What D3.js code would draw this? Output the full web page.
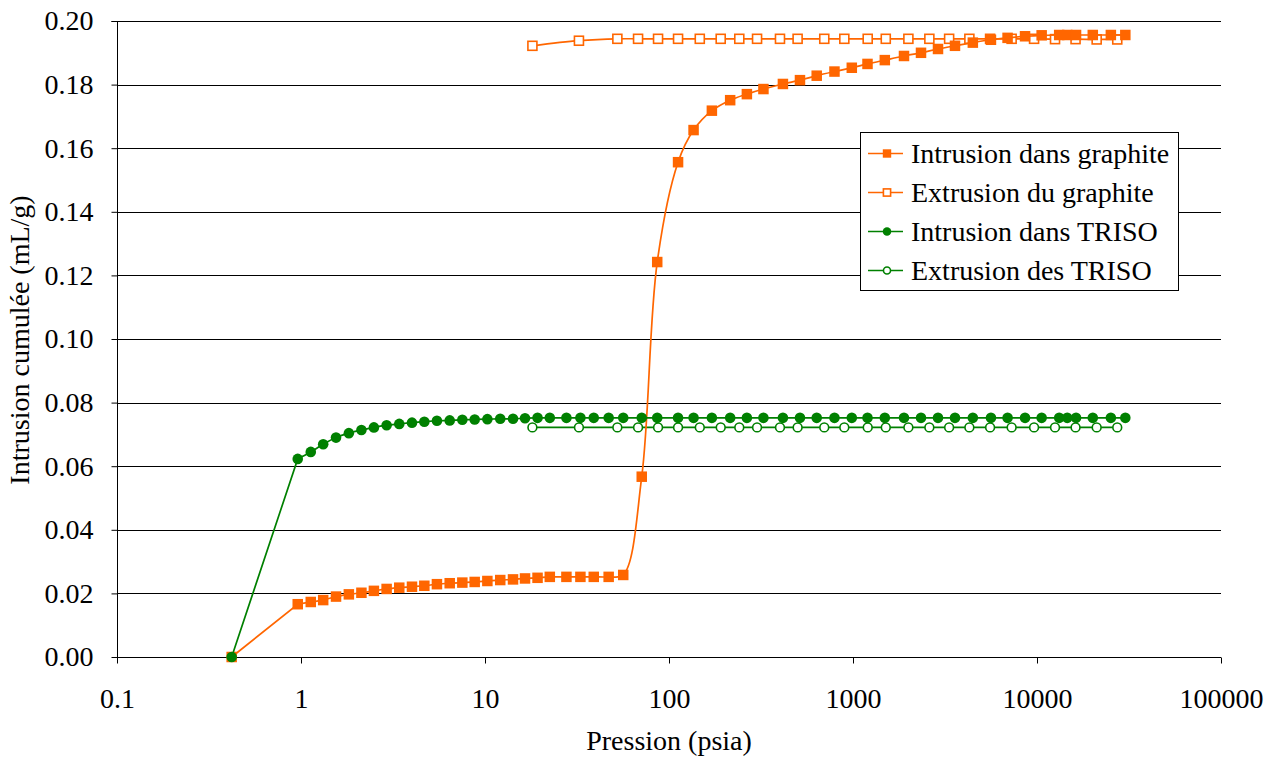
<!DOCTYPE html>
<html>
<head>
<meta charset="utf-8">
<script src="https://cdn.jsdelivr.net/npm/d3@7.9.0/dist/d3.min.js"></script>
</head>
<body style="margin: 0; background: #fff;">
<svg width="1276" height="758"></svg>
<script>
// pressures (psia) used for both intrusion runs
const intrusionPressure = [0.42, 0.96, 1.13, 1.32, 1.55, 1.82, 2.13, 2.49, 2.92, 3.42, 4.01, 4.68, 5.48, 6.43, 7.53, 8.79,
  10.3, 12.1, 14.2, 16.5, 19.3, 22.5, 27.7, 33.0, 39.0, 47.0, 56.4, 71.1, 86.3, 112, 136, 171, 215, 265, 326, 416,
  515, 635, 793, 985, 1199, 1489, 1893, 2342, 2897, 3583, 4480, 5620, 6920, 8610, 10600, 13200, 14600, 16300,
  20100, 25200, 30200];
const intrusionGraphite = [0, 0.0166, 0.0173, 0.0179, 0.0190, 0.0197, 0.0202, 0.0208, 0.0214, 0.0218, 0.0221, 0.0224,
  0.0229, 0.0232, 0.0234, 0.0236, 0.0239, 0.0242, 0.0244, 0.0247, 0.0249, 0.0252, 0.0252, 0.0252, 0.0252, 0.0252,
  0.0258, 0.0567, 0.1242, 0.1556, 0.1657, 0.1718, 0.1751, 0.1770, 0.1786, 0.1802, 0.1814, 0.1828, 0.1841, 0.1853,
  0.1865, 0.1877, 0.1890, 0.1900, 0.1912, 0.1922, 0.1932, 0.1941, 0.1947, 0.1952, 0.1955, 0.1956, 0.1956, 0.1956,
  0.1956, 0.1956, 0.1956];
const intrusionTriso = [0, 0.0623, 0.0645, 0.0669, 0.0690, 0.0704, 0.0714, 0.0722, 0.0729, 0.0733, 0.0737, 0.0740,
  0.0743, 0.0744, 0.0746, 0.0747, 0.0748, 0.0749, 0.0749, 0.0751, 0.0752, 0.0752, 0.0752, 0.0752, 0.0752, 0.0752,
  0.0752, 0.0752, 0.0752, 0.0752, 0.0752, 0.0752, 0.0752, 0.0752, 0.0752, 0.0752, 0.0752, 0.0752, 0.0752, 0.0752,
  0.0752, 0.0752, 0.0752, 0.0752, 0.0752, 0.0752, 0.0752, 0.0752, 0.0752, 0.0752, 0.0752, 0.0752, 0.0752, 0.0752,
  0.0752, 0.0752, 0.0752];

// extrusion runs share their pressures too
const extrusionPressure = [18.1, 32.4, 52.4, 67.9, 87.2, 112, 147, 191, 241, 301, 401, 500, 698, 897, 1202, 1507,
  2000, 2600, 3330, 4290, 5560, 7280, 9640, 12530, 16200, 21100, 27300];
const extrusionGraphite = [0.1922, 0.1938, 0.1944, 0.1944, 0.1944, 0.1944, 0.1944, 0.1944, 0.1944, 0.1944, 0.1944,
  0.1944, 0.1944, 0.1944, 0.1944, 0.1944, 0.1944, 0.1944, 0.1944, 0.1944, 0.1944, 0.1944, 0.1944, 0.1943, 0.1943,
  0.1942, 0.1942];
const extrusionTriso = [0.0722, 0.0722, 0.0722, 0.0722, 0.0722, 0.0722, 0.0722, 0.0722, 0.0722, 0.0722, 0.0722,
  0.0722, 0.0722, 0.0722, 0.0722, 0.0722, 0.0722, 0.0722, 0.0722, 0.0722, 0.0722, 0.0722, 0.0722, 0.0722, 0.0722,
  0.0722, 0.0722];

const xTicks = [0.1, 1, 10, 100, 1000, 10000, 100000];
const xTickLabels = ['0.1', '1', '10', '100', '1000', '10000', '100000'];
const yTicks = [0, 0.02, 0.04, 0.06, 0.08, 0.10, 0.12, 0.14, 0.16, 0.18, 0.20];

const ORANGE = '#ff6600';
const GREEN = '#008000';
const FONT = "'Liberation Serif', 'Times New Roman', serif";

const series = [
  { name: 'Intrusion dans graphite', x: intrusionPressure, y: intrusionGraphite, color: ORANGE, marker: 'square', filled: true },
  { name: 'Extrusion du graphite', x: extrusionPressure, y: extrusionGraphite, color: ORANGE, marker: 'square', filled: false },
  { name: 'Intrusion dans TRISO', x: intrusionPressure, y: intrusionTriso, color: GREEN, marker: 'circle', filled: true },
  { name: 'Extrusion des TRISO', x: extrusionPressure, y: extrusionTriso, color: GREEN, marker: 'circle', filled: false },
];

const plotLeft = 117, plotRight = 1221, plotTop = 21, plotBottom = 657;
const svg = d3.select('svg');

const x = d3.scaleLog().domain([0.1, 100000]).range([plotLeft, plotRight]);
const y = d3.scaleLinear().domain([0, 0.2]).range([plotBottom, plotTop]);

// horizontal gridlines
svg.append('g')
  .selectAll('line')
  .data(yTicks.slice(1))
  .join('line')
  .attr('x1', plotLeft).attr('x2', plotRight)
  .attr('y1', (d) => Math.round(y(d)) + 0.5).attr('y2', (d) => Math.round(y(d)) + 0.5)
  .attr('stroke', '#000').attr('stroke-width', 1);

// y axis
let yAxis = svg.append('g')
  .attr('transform', `translate(${plotLeft + 0.5},0)`)
  .call(d3.axisLeft(y).tickValues(yTicks).tickFormat(d3.format('.2f')).tickSize(6).tickPadding(18));
yAxis.select('.domain').attr('d', `M-6,${plotTop + 0.5}H0V${plotBottom + 0.5}`);
yAxis.selectAll('text')
  .style('font-family', FONT).style('font-size', '28px').attr('fill', '#000');

// x axis
let xAxis = svg.append('g')
  .attr('transform', `translate(0,${plotBottom + 0.5})`)
  .call(d3.axisBottom(x).tickValues(xTicks).tickFormat((d, i) => xTickLabels[i]).tickSize(6));
xAxis.select('.domain').attr('d', `M${plotLeft},0H${plotRight}`);
xAxis.selectAll('text')
  .attr('dy', null).attr('y', 50)
  .style('font-family', FONT).style('font-size', '28px').attr('fill', '#000');

// axis titles
svg.append('text')
  .attr('x', 669).attr('y', 750)
  .attr('text-anchor', 'middle')
  .style('font-family', FONT).style('font-size', '28px')
  .text('Pression (psia)');
svg.append('text')
  .attr('transform', 'translate(29,340) rotate(-90)')
  .attr('text-anchor', 'middle')
  .style('font-family', FONT).style('font-size', '28px')
  .text('Intrusion cumulée (mL/g)');

const smooth = d3.line()
  .x((d) => x(d[0]))
  .y((d) => y(d[1]))
  .curve(d3.curveCatmullRom.alpha(0.5));

// the first leg out of the origin point is straight, the rest is smoothed
function seriesPath(pts, straightStart) {
  if (!straightStart) return smooth(pts);
  let rest = smooth(pts.slice(1));
  return `M${x(pts[0][0])},${y(pts[0][1])}L` + rest.slice(1);
}

function drawMarker(g, s, cx, cy, scale = 1) {
  if (s.marker === 'square') {
    let size = (s.filled ? 10.5 : 9) * scale;
    g.append('rect')
      .attr('x', cx - size / 2).attr('y', cy - size / 2)
      .attr('width', size).attr('height', size)
      .attr('fill', s.filled ? s.color : '#fff')
      .attr('stroke', s.color).attr('stroke-width', s.filled ? 0 : 1.6);
  } else {
    g.append('circle')
      .attr('cx', cx).attr('cy', cy).attr('r', (s.filled ? 5.3 : 4.4) * scale)
      .attr('fill', s.filled ? s.color : '#fff')
      .attr('stroke', s.color).attr('stroke-width', s.filled ? 0 : 1.6);
  }
}

// draw the extrusion series first, intrusion above
[1, 3, 0, 2].forEach((k) => {
  let s = series[k];
  let pts = s.x.map((p, i) => [p, s.y[i]]);
  let g = svg.append('g');
  g.append('path')
    .attr('d', seriesPath(pts, s.filled))
    .attr('fill', 'none')
    .attr('stroke', s.color)
    .attr('stroke-width', 1.7);
  pts.forEach((d) => drawMarker(g, s, x(d[0]), y(d[1])));
});

// legend
const legend = svg.append('g').attr('transform', 'translate(860,132)');
legend.append('rect')
  .attr('x', 0.5).attr('y', 0.5).attr('width', 318).attr('height', 158)
  .attr('fill', '#fff').attr('stroke', '#000').attr('stroke-width', 1);
series.forEach((s, i) => {
  let ly = 21.5 + i * 39;
  let g = legend.append('g');
  g.append('line')
    .attr('x1', 8).attr('x2', 43).attr('y1', ly).attr('y2', ly)
    .attr('stroke', s.color).attr('stroke-width', 1.7);
  drawMarker(g, s, 27, ly, 0.8);
  g.append('text')
    .attr('x', 51).attr('y', ly + 9)
    .style('font-family', FONT).style('font-size', '28px')
    .text(s.name);
});
</script>
</body>
</html>
